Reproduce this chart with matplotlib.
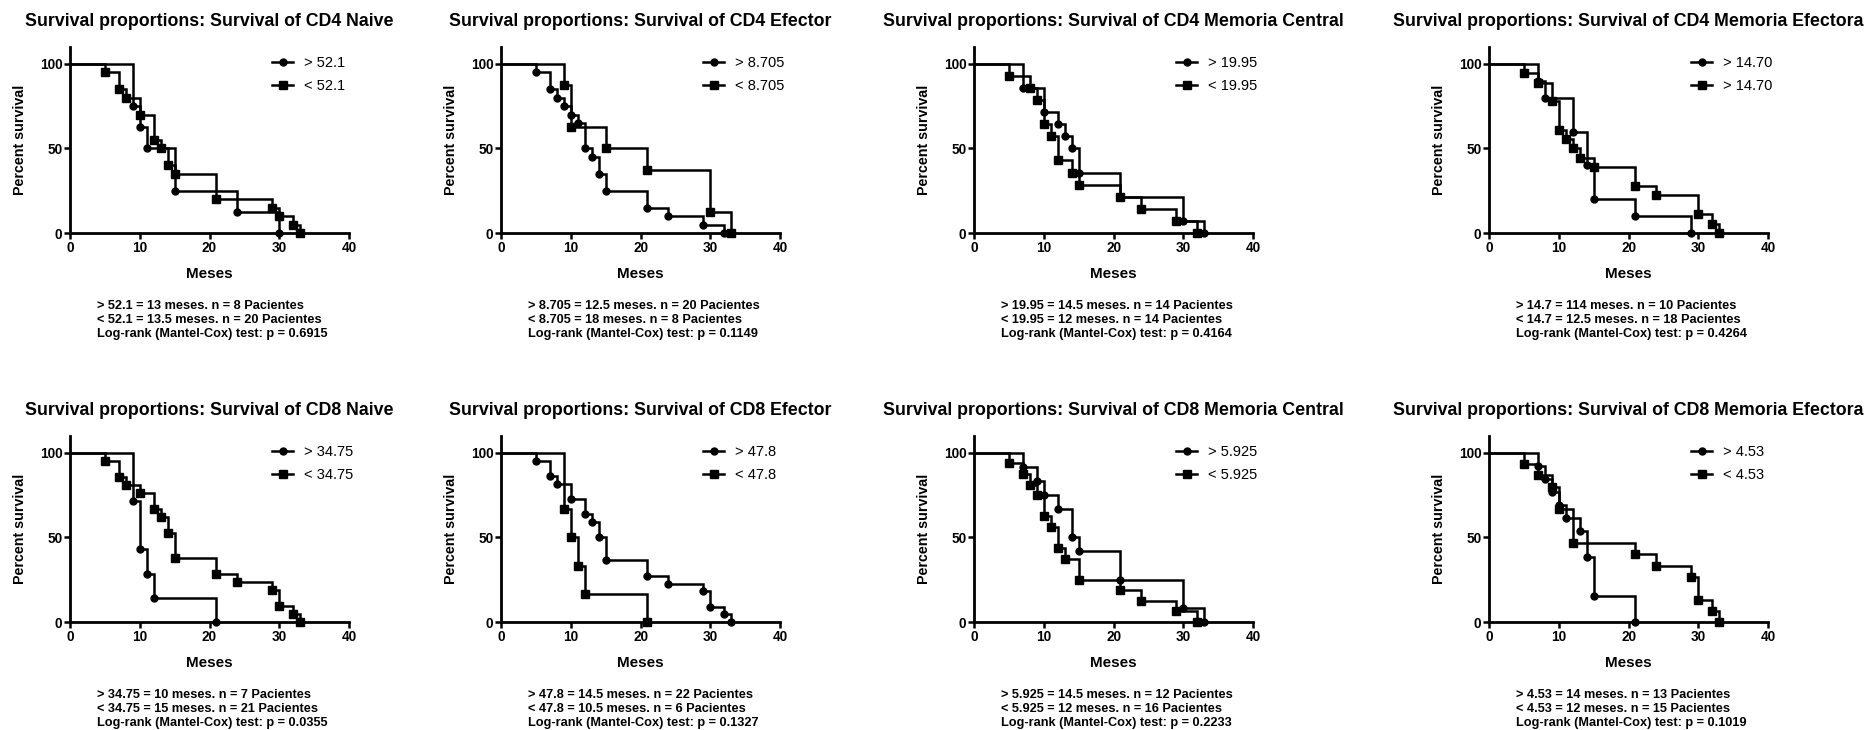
import matplotlib
matplotlib.use("Agg")
import matplotlib.pyplot as plt
from matplotlib.lines import Line2D

plt.rcParams['font.family'] = ['Liberation Sans', 'DejaVu Sans']

# Kaplan-Meier curves: event times (meses) and survival (%) after each drop
cd4_naive_hi_t = [9, 10, 11, 15, 24, 30]
cd4_naive_hi_s = [75, 62.5, 50, 25, 12.5, 0]
cd4_naive_lo_t = [5, 7, 8, 10, 12, 13, 14, 15, 21, 29, 30, 32, 33]
cd4_naive_lo_s = [95, 85, 80, 70, 55, 50, 40, 35, 20, 15, 10, 5, 0]

cd4_efec_hi_t = [5, 7, 8, 9, 10, 11, 12, 13, 14, 15, 21, 24, 29, 32]
cd4_efec_hi_s = [95, 85, 80, 75, 70, 65, 50, 45, 35, 25, 15, 10, 5, 0]
cd4_efec_lo_t = [9, 10, 15, 21, 30, 33]
cd4_efec_lo_s = [87.5, 62.5, 50, 37.5, 12.5, 0]

cd4_mc_hi_t = [7, 10, 12, 13, 14, 15, 21, 30, 33]
cd4_mc_hi_s = [85.7, 71.4, 64.3, 57.1, 50, 35.7, 21.4, 7.1, 0]
cd4_mc_lo_t = [5, 8, 9, 10, 11, 12, 14, 15, 21, 24, 29, 32]
cd4_mc_lo_s = [92.9, 85.7, 78.6, 64.3, 57.1, 42.9, 35.7, 28.6, 21.4, 14.3, 7.1, 0]

cd4_me_hi_t = [7, 8, 12, 14, 15, 21, 29]
cd4_me_hi_s = [90, 80, 60, 40, 20, 10, 0]
cd4_me_lo_t = [5, 7, 9, 10, 11, 12, 13, 15, 21, 24, 30, 32, 33]
cd4_me_lo_s = [94.4, 88.9, 77.8, 61.1, 55.6, 50, 44.4, 38.9, 27.8, 22.2, 11.1, 5.6, 0]

cd8_naive_hi_t = [9, 10, 11, 12, 21]
cd8_naive_hi_s = [71.4, 42.9, 28.6, 14.3, 0]
cd8_naive_lo_t = [5, 7, 8, 10, 12, 13, 14, 15, 21, 24, 29, 30, 32, 33]
cd8_naive_lo_s = [95.2, 85.7, 81.0, 76.2, 66.7, 61.9, 52.4, 38.1, 28.6, 23.8, 19.0, 9.5, 4.8, 0]

cd8_efec_hi_t = [5, 7, 8, 10, 12, 13, 14, 15, 21, 24, 29, 30, 32, 33]
cd8_efec_hi_s = [95.5, 86.4, 81.8, 72.7, 63.6, 59.1, 50, 36.4, 27.3, 22.7, 18.2, 9.1, 4.5, 0]
cd8_efec_lo_t = [9, 10, 11, 12, 21]
cd8_efec_lo_s = [66.7, 50, 33.3, 16.7, 0]

cd8_mc_hi_t = [7, 9, 10, 12, 14, 15, 21, 30, 33]
cd8_mc_hi_s = [91.7, 83.3, 75, 66.7, 50, 41.7, 25, 8.3, 0]
cd8_mc_lo_t = [5, 7, 8, 9, 10, 11, 12, 13, 15, 21, 24, 29, 32]
cd8_mc_lo_s = [93.75, 87.5, 81.25, 75, 62.5, 56.25, 43.75, 37.5, 25, 18.75, 12.5, 6.25, 0]

cd8_me_hi_t = [7, 8, 9, 10, 11, 13, 14, 15, 21]
cd8_me_hi_s = [92.3, 84.6, 76.9, 69.2, 61.5, 53.8, 38.5, 15.4, 0]
cd8_me_lo_t = [5, 7, 9, 10, 12, 21, 24, 29, 30, 32, 33]
cd8_me_lo_s = [93.3, 86.7, 80, 66.7, 46.7, 40, 33.3, 26.7, 13.3, 6.7, 0]

titles = ["CD4 Naive", "CD4 Efector", "CD4 Memoria Central", "CD4 Memoria Efectora",
          "CD8 Naive", "CD8 Efector", "CD8 Memoria Central", "CD8 Memoria Efectora"]
labels_hi = ["> 52.1", "> 8.705", "> 19.95", "> 14.70", "> 34.75", "> 47.8", "> 5.925", "> 4.53"]
labels_lo = ["< 52.1", "< 8.705", "< 19.95", "> 14.70", "< 34.75", "< 47.8", "< 5.925", "< 4.53"]
notes = [
    "> 52.1 = 13 meses. n = 8 Pacientes\n< 52.1 = 13.5 meses. n = 20 Pacientes\nLog-rank (Mantel-Cox) test: p = 0.6915",
    "> 8.705 = 12.5 meses. n = 20 Pacientes\n< 8.705 = 18 meses. n = 8 Pacientes\nLog-rank (Mantel-Cox) test: p = 0.1149",
    "> 19.95 = 14.5 meses. n = 14 Pacientes\n< 19.95 = 12 meses. n = 14 Pacientes\nLog-rank (Mantel-Cox) test: p = 0.4164",
    "> 14.7 = 114 meses. n = 10 Pacientes\n< 14.7 = 12.5 meses. n = 18 Pacientes\nLog-rank (Mantel-Cox) test: p = 0.4264",
    "> 34.75 = 10 meses. n = 7 Pacientes\n< 34.75 = 15 meses. n = 21 Pacientes\nLog-rank (Mantel-Cox) test: p = 0.0355",
    "> 47.8 = 14.5 meses. n = 22 Pacientes\n< 47.8 = 10.5 meses. n = 6 Pacientes\nLog-rank (Mantel-Cox) test: p = 0.1327",
    "> 5.925 = 14.5 meses. n = 12 Pacientes\n< 5.925 = 12 meses. n = 16 Pacientes\nLog-rank (Mantel-Cox) test: p = 0.2233",
    "> 4.53 = 14 meses. n = 13 Pacientes\n< 4.53 = 12 meses. n = 15 Pacientes\nLog-rank (Mantel-Cox) test: p = 0.1019",
]

curves = [
    (cd4_naive_hi_t, cd4_naive_hi_s, cd4_naive_lo_t, cd4_naive_lo_s),
    (cd4_efec_hi_t, cd4_efec_hi_s, cd4_efec_lo_t, cd4_efec_lo_s),
    (cd4_mc_hi_t, cd4_mc_hi_s, cd4_mc_lo_t, cd4_mc_lo_s),
    (cd4_me_hi_t, cd4_me_hi_s, cd4_me_lo_t, cd4_me_lo_s),
    (cd8_naive_hi_t, cd8_naive_hi_s, cd8_naive_lo_t, cd8_naive_lo_s),
    (cd8_efec_hi_t, cd8_efec_hi_s, cd8_efec_lo_t, cd8_efec_lo_s),
    (cd8_mc_hi_t, cd8_mc_hi_s, cd8_mc_lo_t, cd8_mc_lo_s),
    (cd8_me_hi_t, cd8_me_hi_s, cd8_me_lo_t, cd8_me_lo_s),
]

W, H = 1868, 730
fig = plt.figure(figsize=(W / 100, H / 100), dpi=100)

col_left = [70, 501, 974, 1489]   # pixel x of the y axis
row_base = [233, 622]             # pixel y of the x axis
ax_w, ax_h = 279, 186
LW = 1.8


def km_step(ax, t, s, marker, ms):
    xs = [0] + list(t)
    ys = [100] + list(s)
    ax.plot(xs, ys, drawstyle='steps-post', color='black', lw=LW,
            solid_joinstyle='miter', clip_on=False)
    ax.plot(t, s, linestyle='none', marker=marker, ms=ms, color='black', clip_on=False)


for i, (hi_t, hi_s, lo_t, lo_s) in enumerate(curves):
    r, c = divmod(i, 4)
    left = col_left[c] / W
    bottom = 1 - row_base[r] / H
    ax = fig.add_axes([left, bottom, ax_w / W, ax_h / H])

    km_step(ax, hi_t, hi_s, 'o', 5.0)
    km_step(ax, lo_t, lo_s, 's', 6.0)

    ax.set_xlim(0, 40)
    ax.set_ylim(0, 110)
    ax.set_xticks([0, 10, 20, 30, 40])
    ax.set_yticks([0, 50, 100])
    for side in ('top', 'right'):
        ax.spines[side].set_visible(False)
    for side in ('left', 'bottom'):
        ax.spines[side].set_linewidth(2.0)
    ax.tick_params(width=1.8, length=4, labelsize=9.8, pad=1.5)
    for lab in ax.get_xticklabels() + ax.get_yticklabels():
        lab.set_fontweight('bold')

    ax.set_xlabel('Meses', fontsize=11, fontweight='bold', labelpad=9)
    ax.set_ylabel('Percent survival', fontsize=10.3, fontweight='bold', labelpad=9)
    ax.set_title('Survival proportions: Survival of ' + titles[i],
                 fontsize=12.8, fontweight='bold', pad=15)

    handles = [
        Line2D([], [], color='black', lw=LW, marker='o', ms=5.0),
        Line2D([], [], color='black', lw=LW, marker='s', ms=6.0),
    ]
    ax.legend(handles, [labels_hi[i], labels_lo[i]], loc='upper left',
              bbox_to_anchor=(0.725, 0.952), frameon=False, fontsize=10.5,
              handlelength=1.45, handletextpad=0.7, labelspacing=0.6,
              borderpad=0, borderaxespad=0)

    fig.text(left + 27 / W, 1 - (row_base[r] + 66.5) / H, notes[i],
             fontsize=9.2, fontweight='bold', va='top', ha='left', linespacing=1.27)

fig.savefig('out.png', dpi=100)
